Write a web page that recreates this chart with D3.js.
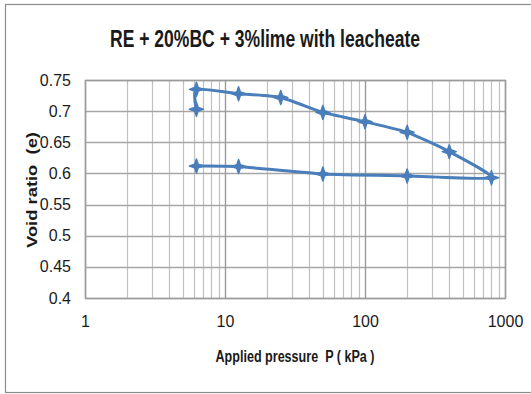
<!DOCTYPE html>
<html>
<head>
<meta charset="utf-8">
<script src="https://cdn.jsdelivr.net/npm/d3@7"></script>
<style>
  html, body { margin: 0; padding: 0; background: #fff; }
  svg { display: block; }
  text { font-family: "Liberation Sans Narrow", "Liberation Sans", Arial, sans-serif; fill: #1a1a1a; }
</style>
</head>
<body>
<div id="chart"></div>
<script>
// Consolidation test: applied pressure (kPa) vs. void ratio, loading then unloading
const pressure  = [6.25, 6.25, 12.5, 25, 50, 100, 200, 400, 800, 200, 50, 12.5, 6.25];
const voidRatio = [0.703, 0.735, 0.728, 0.722, 0.698, 0.683, 0.666, 0.635, 0.593, 0.596, 0.599, 0.611, 0.612];
const xTicks = [1, 10, 100, 1000];
const yTicks = [0.4, 0.45, 0.5, 0.55, 0.6, 0.65, 0.7, 0.75];
const yTickLabels = ["0.4", "0.45", "0.5", "0.55", "0.6", "0.65", "0.7", "0.75"];

const W = 531, H = 394;
const plot = { left: 85, right: 505, top: 80, bottom: 298 };

const svg = d3.select("#chart").append("svg").attr("width", W).attr("height", H);

// chart area frame
svg.append("rect")
  .attr("x", 5.5).attr("y", 4.5).attr("width", W + 20).attr("height", H - 6)
  .attr("fill", "#fff").attr("stroke", "#8c8c8c").attr("stroke-width", 1.2);

const x = d3.scaleLog().domain([1, 1000]).range([plot.left, plot.right]);
const y = d3.scaleLinear().domain([0.4, 0.75]).range([plot.bottom, plot.top]);

const grid = svg.append("g");

// minor vertical gridlines (2..9 per decade)
const minor = [];
for (let d = 1; d < 1000; d *= 10) for (let k = 2; k <= 9; k++) minor.push(d * k);
grid.selectAll("line.minor").data(minor).join("line")
  .attr("x1", d => Math.round(x(d)) + 0.5).attr("x2", d => Math.round(x(d)) + 0.5)
  .attr("y1", plot.top).attr("y2", plot.bottom)
  .attr("stroke", "#c0c0c0").attr("stroke-width", 1.2);

// horizontal gridlines
grid.selectAll("line.h").data(yTicks).join("line")
  .attr("x1", plot.left).attr("x2", plot.right)
  .attr("y1", d => Math.round(y(d)) + 0.5).attr("y2", d => Math.round(y(d)) + 0.5)
  .attr("stroke", "#a6a6a6").attr("stroke-width", 1.3);

// decade gridlines
grid.selectAll("line.major").data(xTicks).join("line")
  .attr("x1", d => Math.round(x(d)) + 0.5).attr("x2", d => Math.round(x(d)) + 0.5)
  .attr("y1", plot.top).attr("y2", plot.bottom)
  .attr("stroke", "#9a9a9a").attr("stroke-width", 1.4);

// plot border
svg.append("rect")
  .attr("x", plot.left + 0.5).attr("y", plot.top + 0.5)
  .attr("width", plot.right - plot.left).attr("height", plot.bottom - plot.top)
  .attr("fill", "none").attr("stroke", "#9a9a9a").attr("stroke-width", 1.4);

// axes (labels only; grid drawn above)
const yAxis = d3.axisLeft(y).tickValues(yTicks)
  .tickFormat((d, i) => yTickLabels[i]).tickSize(0).tickPadding(14);
svg.append("g").attr("transform", `translate(${plot.left},0)`).call(yAxis)
  .call(g => g.select(".domain").remove())
  .selectAll("text").style("font-size", "16px")
  .style("font-family", '"Liberation Sans Narrow", "Liberation Sans", Arial, sans-serif')
  .attr("fill", "#1a1a1a");

const xAxis = d3.axisBottom(x).tickValues(xTicks).tickFormat(d3.format("d")).tickSize(0).tickPadding(18);
svg.append("g").attr("transform", `translate(0,${plot.bottom})`).call(xAxis)
  .call(g => g.select(".domain").remove())
  .selectAll("text").style("font-size", "16px")
  .style("font-family", '"Liberation Sans Narrow", "Liberation Sans", Arial, sans-serif')
  .attr("fill", "#1a1a1a");

// data line (smoothed)
const pts = pressure.map((p, i) => [x(p), y(voidRatio[i])]);
svg.append("path")
  .attr("d", d3.line().curve(d3.curveCardinal.tension(0.45))(pts))
  .attr("fill", "none").attr("stroke", "#4a7ebb").attr("stroke-width", 3)
  .attr("stroke-linejoin", "round");

// four-point star markers
const star = "M0,-7 L1.8,-1.8 L7,0 L1.8,1.8 L0,7 L-1.8,1.8 L-7,0 L-1.8,-1.8 Z";
svg.selectAll("path.mk").data(pts).join("path")
  .attr("class", "mk")
  .attr("transform", d => `translate(${d[0]},${d[1]})`)
  .attr("d", star)
  .attr("fill", "#4a7ebb").attr("stroke", "#4a7ebb").attr("stroke-width", 1.5)
  .attr("stroke-linejoin", "round");

// titles
svg.append("text")
  .attr("x", 265).attr("y", 47).attr("text-anchor", "middle")
  .attr("textLength", 310).attr("lengthAdjust", "spacingAndGlyphs")
  .style("font-size", "23px").style("font-weight", "bold")
  .text("RE + 20%BC + 3%lime with leacheate");

svg.append("text")
  .attr("x", 295).attr("y", 362).attr("text-anchor", "middle")
  .attr("textLength", 159).attr("lengthAdjust", "spacingAndGlyphs")
  .style("font-size", "16px").style("font-weight", "bold")
  .text("Applied pressure \u00a0P ( kPa )");

svg.append("text")
  .attr("transform", "translate(37,190) rotate(-90)")
  .attr("text-anchor", "middle")
  .attr("textLength", 116).attr("lengthAdjust", "spacingAndGlyphs")
  .style("font-size", "15px").style("font-weight", "bold")
  .text("Void ratio \u00a0(e)");
</script>
</body>
</html>
